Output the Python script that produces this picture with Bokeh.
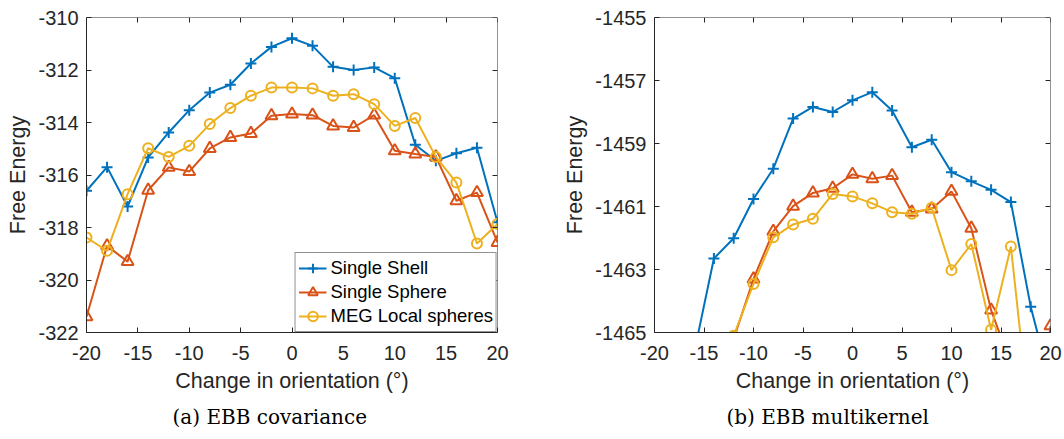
from bokeh.plotting import figure
from bokeh.models import Range1d, FixedTicker, LinearAxis, Title, CustomJSTickFormatter
from bokeh.layouts import row
from bokeh.embed import file_html
from bokeh.resources import INLINE

# ---------------- data ----------------
orient = [-20, -18, -16, -14, -12, -10, -8, -6, -4, -2, 0, 2, 4, 6, 8, 10, 12, 14, 16, 18, 20]

# (a) EBB covariance
shell_cov = [-316.6, -315.7, -317.2, -315.33, -314.38, -313.53, -312.86, -312.56, -311.75, -311.12,
             -310.79, -311.08, -311.88, -312.0, -311.9, -312.31, -314.85, -315.46, -315.17, -314.96, -317.8]
sphere_cov = [-321.4, -318.7, -319.3, -316.58, -315.71, -315.87, -314.99, -314.57, -314.42, -313.74,
              -313.68, -313.72, -314.13, -314.19, -313.72, -315.08, -315.2, -315.31, -316.98, -316.67, -318.57]
meg_cov = [-318.38, -318.89, -316.73, -314.98, -315.31, -314.89, -314.06, -313.45, -312.98, -312.67,
           -312.67, -312.70, -312.98, -312.92, -313.30, -314.13, -313.83, -315.31, -316.29, -318.61, -317.87]

# (b) EBB multikernel
shell_mk_x = [-16, -14, -12, -10, -8, -6, -4, -2, 0, 2, 4, 6, 8, 10, 12, 14, 16, 18, 20]
shell_mk = [-1465.65, -1462.65, -1462.01, -1460.76, -1459.80, -1458.21, -1457.84, -1458.0, -1457.63, -1457.37,
            -1457.95, -1459.12, -1458.88, -1459.91, -1460.2, -1460.47, -1460.86, -1464.18, -1466.6]
sphere_mk_x = [-12, -10, -8, -6, -4, -2, 0, 2, 4, 6, 8, 10, 12, 14, 16, 18, 20]
sphere_mk = [-1465.2, -1463.3, -1461.79, -1460.99, -1460.57, -1460.42, -1459.98, -1460.12, -1460.02, -1461.18,
             -1461.08, -1460.52, -1461.69, -1464.29, -1466.0, -1470.0, -1464.79]
meg_mk_x = [-12, -10, -8, -6, -4, -2, 0, 2, 4, 6, 8, 10, 12, 14, 16, 18, 20]
meg_mk = [-1465.1, -1463.46, -1461.98, -1461.57, -1461.39, -1460.6, -1460.68, -1460.9, -1461.18, -1461.23,
          -1461.04, -1463.02, -1462.19, -1464.91, -1462.27, -1468.1, -1467.5]

x_ticks = [-20, -15, -10, -5, 0, 5, 10, 15, 20]
y_ticks_a = [-322, -320, -318, -316, -314, -312, -310]
y_ticks_b = [-1465, -1463, -1461, -1459, -1457, -1455]

series_names = ["Single Shell", "Single Sphere", "MEG Local spheres"]
captions = ["(a) EBB covariance", "(b) EBB multikernel"]
x_label = "Change in orientation (\u00b0)"
y_label = "Free Energy"

# ---------------- style ----------------
BLUE, RED, YEL = "#0072BD", "#D95319", "#EDB120"
AX = "#262626"
SANS = "Liberation Sans"
SERIF = "DejaVu Serif"
H = 439


def style_axis(ax):
    ax.axis_line_color = AX
    ax.axis_line_width = 1
    ax.major_tick_line_color = AX
    ax.major_tick_in = 5
    ax.major_tick_out = 0
    ax.minor_tick_line_color = None
    ax.major_label_text_font = SANS
    ax.major_label_text_color = AX
    ax.major_label_text_font_size = "20px"


def make_fig(width, yr, yticks, bl, br, cap, cap_off):
    p = figure(width=width, height=H, x_range=Range1d(-20, 20), y_range=Range1d(*yr),
               output_backend="svg", toolbar_location=None,
               min_border_left=bl, min_border_right=br, min_border_top=17, min_border_bottom=60)
    p.grid.visible = False
    p.outline_line_color = None
    p.background_fill_color = "white"
    p.border_fill_color = "white"

    xa = p.xaxis[0]
    ya = p.yaxis[0]
    xa.ticker = FixedTicker(ticks=x_ticks)
    ya.ticker = FixedTicker(ticks=yticks)
    style_axis(xa)
    style_axis(ya)
    fmt = "return tick.toFixed(0);"
    xa.formatter = CustomJSTickFormatter(code=fmt)
    ya.formatter = CustomJSTickFormatter(code=fmt)
    xa.major_label_standoff = 13
    ya.major_label_standoff = 8
    for a in (xa, ya):
        a.axis_label_text_font = SANS
        a.axis_label_text_font_size = "21.5px"
        a.axis_label_text_font_style = "normal"
        a.axis_label_text_color = AX
    xa.axis_label = x_label
    ya.axis_label = y_label
    xa.axis_label_standoff = 6
    ya.axis_label_standoff = 5

    # box with inward ticks on top and right
    blank = "return '';"
    top = LinearAxis(ticker=FixedTicker(ticks=x_ticks), fixed_location=yr[1],
                     formatter=CustomJSTickFormatter(code=blank))
    right = LinearAxis(ticker=FixedTicker(ticks=yticks), fixed_location=20,
                       formatter=CustomJSTickFormatter(code=blank))
    style_axis(top)
    style_axis(right)
    top.major_label_standoff = 0
    right.major_label_standoff = 0
    p.add_layout(top, "above")
    p.add_layout(right, "right")

    t = Title(text=cap, align="left", offset=cap_off, text_font=SERIF, text_font_size="20px",
              text_font_style="normal", text_color="black", standoff=18, vertical_align="top")
    try:
        t.text_baseline = "top"
    except Exception:
        pass
    p.add_layout(t, "below")
    return p


def add_series(p, xs, ys, color, marker, size, label=None):
    kw = {"legend_label": label} if label else {}
    p.line(xs, ys, line_color=color, line_width=2, **kw)
    p.scatter(xs, ys, marker=marker, size=size, line_color=color, fill_color=None, line_width=2, **kw)


p1 = make_fig(560, (-322, -310), y_ticks_a, 86, 63, captions[0], 86)
add_series(p1, orient, shell_cov, BLUE, "cross", 11, series_names[0])
add_series(p1, orient, sphere_cov, RED, "triangle", 12, series_names[1])
add_series(p1, orient, meg_cov, YEL, "circle", 10, series_names[2])

lg = p1.legend[0]
lg.location = "bottom_right"
lg.margin = 0
lg.padding = 3
lg.spacing = 0
lg.glyph_width = 28
lg.glyph_height = 24
lg.label_height = 24
lg.label_standoff = 4
lg.label_text_font = SANS
lg.label_text_font_size = "18.5px"
lg.label_text_color = "black"
lg.border_line_color = AX
lg.border_line_width = 1
lg.background_fill_alpha = 1.0

p2 = make_fig(502, (-1465, -1455), y_ticks_b, 90, 12, captions[1], 72)
add_series(p2, shell_mk_x, shell_mk, BLUE, "cross", 11)
add_series(p2, sphere_mk_x, sphere_mk, RED, "triangle", 12)
add_series(p2, meg_mk_x, meg_mk, YEL, "circle", 10)

layout = row(p1, p2)
open("out.html", "w").write(file_html(layout, INLINE))
